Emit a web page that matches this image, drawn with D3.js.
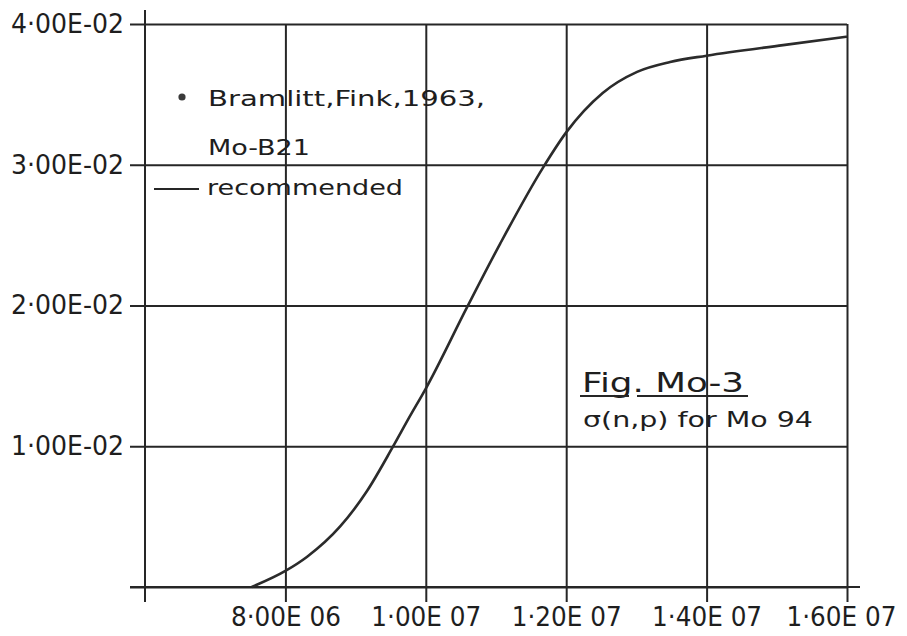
<!DOCTYPE html>
<html>
<head>
<meta charset="utf-8">
<script src="https://cdn.jsdelivr.net/npm/d3@7"></script>
<style>
  html, body { margin: 0; padding: 0; background: #fff; }
  svg { display: block; }
  text { fill: #1e1e1e; }
</style>
</head>
<body>
<svg id="chart" width="907" height="636"></svg>
<script>
// Neutron energy (eV) and recommended (n,p) cross section (barn) for Mo 94
const energy = [7.52e6, 8.0e6, 8.31e6, 8.78e6, 9.16e6, 9.53e6, 9.77e6, 1.0e7,
                1.059e7, 1.106e7, 1.167e7, 1.2e7, 1.252e7, 1.301e7,
                1.348e7, 1.4e7, 1.509e7, 1.6e7];
const sigma  = [0.0, 0.00114, 0.00215, 0.00430, 0.00680, 0.00995, 0.0121, 0.0141,
                0.0199, 0.0244, 0.0298, 0.0323, 0.0351, 0.0366,
                0.0373, 0.03775, 0.0385, 0.0391];

const xTicks = [8e6, 1e7, 1.2e7, 1.4e7, 1.6e7];
const xTickLabels = ["8·00E 06", "1·00E 07", "1·20E 07", "1·40E 07", "1·60E 07"];
const yTicks = [0, 0.01, 0.02, 0.03, 0.04];
const yTickLabels = ["", "1·00E-02", "2·00E-02", "3·00E-02", "4·00E-02"];

const ink = "#262626";
const svg = d3.select("#chart");

const x = d3.scaleLinear().domain([6e6, 1.6e7]).range([145, 847]);
const y = d3.scaleLinear().domain([0, 0.04]).range([587, 24]);

const tickFont = "'DejaVu Sans', sans-serif";

// horizontal grid + y tick labels
const yAxisX = x(6e6) - 15;
const gy = svg.append("g")
  .attr("transform", `translate(${yAxisX},0)`)
  .call(d3.axisLeft(y)
    .tickValues(yTicks)
    .tickSizeInner(-(x(1.6e7) - yAxisX))
    .tickSizeOuter(0)
    .tickPadding(6)
    .tickFormat((d, i) => yTickLabels[i]));
gy.select(".domain").remove();
gy.selectAll(".tick line").attr("stroke", ink).attr("stroke-width", 2);
gy.selectAll(".tick text")
  .attr("font-family", tickFont)
  .attr("font-size", 26)
  .attr("textLength", 113)
  .attr("lengthAdjust", "spacingAndGlyphs")
  .style("fill", "#1e1e1e");

// vertical grid + x tick labels
const xAxisY = y(0) + 15;
const gx = svg.append("g")
  .attr("transform", `translate(0,${xAxisY})`)
  .call(d3.axisBottom(x)
    .tickValues(xTicks)
    .tickSizeInner(-(xAxisY - y(0.04)))
    .tickSizeOuter(0)
    .tickPadding(6)
    .tickFormat((d, i) => xTickLabels[i]));
gx.select(".domain").remove();
gx.selectAll(".tick line").attr("stroke", ink).attr("stroke-width", 2);
gx.selectAll(".tick text")
  .attr("font-family", tickFont)
  .attr("font-size", 26)
  .attr("textLength", 110)
  .attr("lengthAdjust", "spacingAndGlyphs")
  .attr("dx", (d, i) => (i === xTicks.length - 1 ? -6 : 0))
  .style("fill", "#1e1e1e");

// main axis lines
svg.append("line")
  .attr("x1", x(6e6)).attr("x2", x(6e6))
  .attr("y1", y(0.04) - 14).attr("y2", xAxisY)
  .attr("stroke", ink).attr("stroke-width", 2);
svg.append("line")
  .attr("x1", yAxisX).attr("x2", x(1.6e7) + 13)
  .attr("y1", y(0)).attr("y2", y(0))
  .attr("stroke", ink).attr("stroke-width", 2);

// recommended curve
const line = d3.line()
  .x((d, i) => x(energy[i]))
  .y((d, i) => y(sigma[i]))
  .curve(d3.curveMonotoneX);
svg.append("path")
  .datum(sigma)
  .attr("d", line)
  .attr("fill", "none")
  .attr("stroke", "#2b2b2b")
  .attr("stroke-width", 2.6);

// legend
const legendFont = "'DejaVu Sans', sans-serif";
function label(tx, ty, size, len, str) {
  svg.append("text").attr("x", tx).attr("y", ty)
    .attr("font-family", legendFont).attr("font-size", size)
    .attr("textLength", len).attr("lengthAdjust", "spacingAndGlyphs")
    .text(str);
}
svg.append("circle").attr("cx", 182).attr("cy", 97).attr("r", 3.6).attr("fill", "#3a3a3a");
label(208, 106, 21, 277, "Bramlitt,Fink,1963,");
label(208, 155, 21, 102, "Mo-B21");
svg.append("line").attr("x1", 154).attr("x2", 199).attr("y1", 189).attr("y2", 189)
  .attr("stroke", ink).attr("stroke-width", 2.2);
label(207, 195, 21, 196, "recommended");

// figure caption
label(582, 392, 27, 162, "Fig. Mo-3");
svg.append("line").attr("x1", 580).attr("x2", 629).attr("y1", 396).attr("y2", 396)
  .attr("stroke", ink).attr("stroke-width", 2.2);
svg.append("line").attr("x1", 637).attr("x2", 748).attr("y1", 396).attr("y2", 396)
  .attr("stroke", ink).attr("stroke-width", 2.2);
label(583, 427, 22, 230, "σ(n,p) for Mo 94");
</script>
</body>
</html>
